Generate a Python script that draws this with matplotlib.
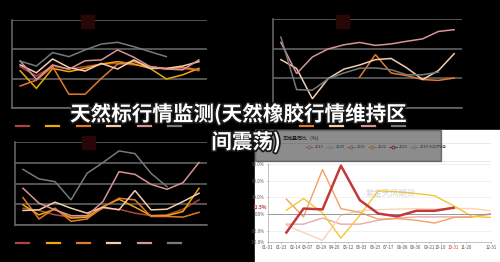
import pandas as pd
import matplotlib
matplotlib.use("Agg")
import matplotlib.pyplot as plt
import matplotlib.patheffects as pe
from matplotlib.lines import Line2D
from matplotlib.patches import Rectangle

plt.rcParams['font.family'] = ['Noto Sans CJK SC', 'DejaVu Sans']

W, H = 500, 262

title_1 = "天然标行情监测(天然橡胶行情维持区"
title_2 = "间震荡)"

# series colours used by the dark panels
c_red, c_gold, c_orange = "#b04440", "#eeaa00", "#e27a2e"
c_peach, c_pink, c_gray = "#f3cdb0", "#d99494", "#767a7a"

# panel 1 (top left)
p1_red = [1.41, 1.09, 1.43, 1.33, 1.41, 1.50, 1.52, 1.47, 1.41, 1.35, 1.35, 1.27]
p1_gold = [1.27, 0.67, 1.35, 1.24, 1.35, 1.50, 1.58, 1.50, 1.35, 0.99, 1.13, 1.35]
p1_orange = [0.75, 0.95, 1.41, 0.47, 0.47, 1.01, 1.50, 1.58, 1.41, 1.33, 1.39, 1.30]
p1_peach = [1.47, 1.20, 1.67, 1.38, 1.26, 1.52, 1.33, 1.64, 1.35, 1.35, 1.43, 1.58]
p1_pink = [1.60, 0.98, 1.47, 1.32, 1.61, 1.64, 1.98, 1.73, 1.41, 1.33, 1.30, 1.64]
p1_gray = [1.60, 1.43, 1.89, 1.75, 1.98, 2.18, 2.24, 2.09, 1.92, 1.75]

# panel 2 (top right)
p2_orange = [None] * 5 + [1.04, 1.80, 1.18, 1.09, 0.96, 0.93, 1.01]
p2_peach = [1.63, 1.33, 0.31, 0.99, 1.31, 1.45, 1.63, 1.67, 1.35, 0.96, 1.26, 1.83]
p2_pink = [2.21, 1.16, 1.72, 1.99, 2.13, 2.21, 2.11, 2.16, 2.25, 2.33, 2.58, 2.64]
p2_gray = [2.39, 0.62, 0.60, 0.98, 1.18, 1.34, 1.35, 1.29, 1.12, 1.12, 1.21]

# panel 3 (bottom left)
p3_red = [0.81, 0.70, 0.49, 0.38, 0.38, 0.81, 0.76, 0.57, 0.45, 0.49, 0.76, 1.21]
p3_gold = [0.97, 0.49, 0.76, 0.33, 0.38, 0.89, 1.24, 0.86, 0.45, 0.45, 0.65, 1.77]
p3_orange = [1.32, 0.29, 0.81, 0.18, 0.29, 0.86, 1.29, 1.21, 0.41, 0.41, 0.38, 0.61]
p3_peach = [0.70, 0.73, 1.10, 0.81, 0.57, 0.86, 0.73, 1.66, 0.73, 0.76, 1.13, 1.53]
p3_pink = [1.77, 1.05, 0.73, 0.45, 0.45, 1.13, 2.57, 2.44, 1.96, 1.72, 2.04, 3.01]
p3_gray = [2.68, 2.22, 2.09, 1.21, 2.49, 3.01, 3.57, 3.44, 2.49, 1.85]

# panel 4 (white chart): yoy sales (%), month-end points
p4_years = ["2019", "2020", "2021", "2022", "2023", "2019-2023均值"]
p4_colors = ["#e8a9b0", "#fbd3b6", "#f4a064", "#f7c533", "#c0393b", "#c8c8c8"]
p4_2019 = [-18, -18, -7, -18, -18, -11, -7, -5, -5, -5, -5, 0]
p4_2020 = [-20, -33, -47, -2, 6, 8, 9, 10, 9, 10, 10, 6]
p4_2021 = [27, -5, 80, 10, 3, -9, -8, -11, -16, -6, -5, 1]
p4_2022 = [7, 28, 2, -43, -2, 42, 40, 37, 33, 15, -4, -6]
p4_2023 = [-33, 10, 8.5, 87, 25, 1, -4, 6, 6, 11.5]
p4_ticks = ["01-01", "01-23", "02-14", "03-07", "03-29", "04-20", "05-12", "06-03",
            "06-25", "07-17", "08-08", "08-30", "09-21", "10-10", "10-31", "11-20", "12-31"]
p4_yticks = [-50, -30, 0, 30, 60, 90]


def rect(x0, y0, x1, y1):
    return [x0 / W, 1 - y1 / H, (x1 - x0) / W, (y1 - y0) / H]


fig = plt.figure(figsize=(W / 100, H / 100), dpi=100, facecolor="black")


def dark_panel(box, top, series):
    ax = fig.add_axes(rect(*box))
    ax.set_facecolor("none")
    for vals, col in series:
        xs = [i for i, v in enumerate(vals) if v is not None]
        ys = [v for v in vals if v is not None]
        ax.plot(xs, ys, color=col, lw=1.1, solid_joinstyle="miter")
    ax.set_xlim(-0.5, 11.5)
    ax.set_ylim(0, top)
    ax.set_yticks(range(top + 1))
    ax.set_xticks([])
    ax.grid(axis="y", color="#6a6a6a", lw=1.1)
    ax.tick_params(left=False, labelleft=False)
    for s in ["top", "right"]:
        ax.spines[s].set_visible(False)
    for s in ["left", "bottom"]:
        ax.spines[s].set_color("#6a6a6a")
        ax.spines[s].set_linewidth(1.1)
    ax.set_axisbelow(True)
    return ax


def legend_marks(y, xs, cols):
    for x, c in zip(xs, cols):
        fig.add_artist(Line2D([x / W, (x + 13) / W], [1 - y / H] * 2, color=c, lw=1.6))


def logo(x, y):
    fig.add_artist(Rectangle((x / W, 1 - (y + 13) / H), 13 / W, 13 / H,
                             color="#2a0707", transform=fig.transFigure))


six = [c_red, c_gold, c_orange, c_peach, c_pink, c_gray]

dark_panel((12, 20, 207, 108), 3, zip([p1_red, p1_gold, p1_orange, p1_peach, p1_pink, p1_gray], six))
legend_marks(126, [16, 46, 77, 107, 138, 168], six)
logo(81, 15)

dark_panel((273, 19, 462, 108), 3, zip([p2_orange, p2_peach, p2_pink, p2_gray],
                                       [c_orange, c_peach, c_pink, c_gray]))
legend_marks(126, [300, 330, 362, 392], [c_orange, c_peach, c_pink, c_gray])
logo(336, 15)

dark_panel((15, 142, 207, 225), 4, zip([p3_red, p3_gold, p3_orange, p3_peach, p3_pink, p3_gray], six))
legend_marks(243, [16, 47, 77, 107, 138, 168], six)
logo(82, 136)

# white chart panel
fig.add_artist(Rectangle((255 / W, 0), 245 / W, 1 - 130 / H, color="white",
                         transform=fig.transFigure, zorder=1))
for yy in [143, 161]:
    fig.add_artist(Line2D([255 / W, 490 / W], [1 - yy / H] * 2, color="#e6e6e6", lw=0.6, zorder=1.5))

ax4 = fig.add_axes(rect(268, 164, 491, 242), zorder=2)
ax4.set_facecolor("none")
days = pd.date_range("2023-01-31", periods=12, freq="ME").dayofyear - 1
tick_days = pd.to_datetime(["2023-" + t for t in p4_ticks]).dayofyear - 1
series4 = [p4_2019, p4_2020, p4_2021, p4_2022, p4_2023]
for vals, col, yr in zip(series4, p4_colors, p4_years):
    lw = 1.8 if yr == "2023" else 1.0
    ax4.plot(days[:len(vals)], vals, color=col, lw=lw, zorder=3 if yr == "2023" else 2)
ax4.set_xlim(0, 364)
ax4.set_ylim(-50, 90)
ax4.set_yticks(p4_yticks)
ax4.set_yticklabels([f"{v:.1f}%" for v in p4_yticks])
ax4.set_xticks(tick_days)
ax4.set_xticklabels(p4_ticks)
ax4.tick_params(labelsize=3.2, colors="#555555", length=1, width=0.4, pad=1.5)
ax4.get_xticklabels()[14].set_color("#c0393b")
ax4.grid(axis="y", color="#ececec", lw=0.5)
ax4.axhline(0, color="#9a9a9a", lw=0.7)
for s in ["top", "right"]:
    ax4.spines[s].set_visible(False)
for s in ["left", "bottom"]:
    ax4.spines[s].set_color("#aaaaaa")
    ax4.spines[s].set_linewidth(0.5)
ax4.text(-2, 11.5, "11.5%", color="#c0393b", fontsize=3.4, ha="right", va="center",
         fontweight="bold")
ax4.text(0.55, 0.62, "紫金天风期货", transform=ax4.transAxes, fontsize=6,
         color="#bbbbbb", alpha=0.6, ha="center", va="center")

# chart header and legend inside the white panel
fig.text(283 / W, 1 - 138 / H, "车销量同比（%）", fontsize=3.6, color="#333333",
         va="center", zorder=3)
leg_x = [309, 330, 351, 372, 393, 414]
for x, col, yr in zip(leg_x, p4_colors, p4_years):
    fig.add_artist(Line2D([(x - 4) / W, (x + 4) / W], [1 - 147 / H] * 2, color=col, lw=0.6, zorder=3))
    fig.add_artist(Line2D([x / W], [1 - 147 / H], marker="o", ms=2.2, mfc="white",
                          mec=col, mew=0.6, zorder=3))
    fig.text((x + 6) / W, 1 - 147 / H, yr, fontsize=2.8, color="#555555", va="center", zorder=3)

# translucent band behind the headline
fig.add_artist(Rectangle((255 / W, 1 - 161 / H), 186 / W, 31 / H, color="black",
                         alpha=0.45, transform=fig.transFigure, zorder=4))

# headline
stroke = [pe.withStroke(linewidth=2.5, foreground="#1a1a1a")]
fig.text(238 / W, 1 - 114 / H, title_1, fontsize=14.8, fontweight="bold", color="white",
         ha="center", va="center", path_effects=stroke, zorder=10)
fig.text(246 / W, 1 - 142 / H, title_2, fontsize=14.8, fontweight="bold", color="white",
         ha="center", va="center", path_effects=stroke, zorder=10)

fig.savefig("out.png", dpi=100, facecolor="black")
